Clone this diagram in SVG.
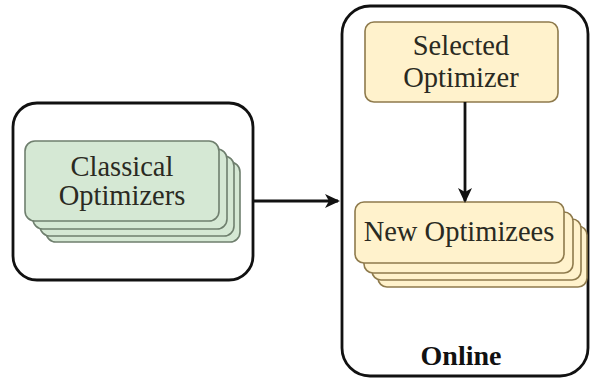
<svg xmlns="http://www.w3.org/2000/svg" width="596" height="382" viewBox="0 0 596 382">
<style>
.cont{fill:#ffffff;stroke:#111111;stroke-width:2.8}
.g{fill:#d5e8d4;stroke:#6f7f6e;stroke-width:1.6}
.y{fill:#fff2cc;stroke:#8e7a4c;stroke-width:1.6}
.t{font-family:"Liberation Serif","Times New Roman",serif;font-size:28.5px;fill:#2a2a22;text-anchor:middle}
.b{font-family:"Liberation Serif","Times New Roman",serif;font-size:28px;font-weight:bold;fill:#111111;text-anchor:middle}
.c{stroke:#111111;stroke-width:2.8;fill:none}
</style>
<defs>
<marker id="ah" markerWidth="16" markerHeight="16" refX="13" refY="8" orient="auto" markerUnits="userSpaceOnUse" viewBox="0 0 16 16">
<path d="M0,1 L15,8 L0,15 L4,8 Z" fill="#111111"/>
</marker>
</defs>
<rect width="596" height="382" fill="#ffffff"/>
<g id="offline">
<rect class="cont" x="13" y="103" width="240" height="177" rx="24"/>
</g>
<g id="online">
<rect class="cont" x="342" y="6" width="246" height="370" rx="28"/>
<text class="b" x="461" y="365">Online</text>
</g>
<g id="classical">
<rect class="g" x="46" y="162" width="194" height="80" rx="10"/>
<rect class="g" x="40" y="156" width="194" height="80" rx="10"/>
<rect class="g" x="33" y="149" width="194" height="80" rx="10"/>
<rect class="g" x="25" y="141" width="194" height="80" rx="10"/>
<text class="t" x="122" y="176">Classical</text>
<text class="t" x="122" y="205">Optimizers</text>
</g>
<g id="selected">
<rect class="y" x="365" y="22" width="193" height="80" rx="9"/>
<text class="t" x="461" y="55">Selected</text>
<text class="t" x="461" y="87">Optimizer</text>
</g>
<g id="newopt">
<rect class="y" x="378" y="226" width="209" height="61" rx="9"/>
<rect class="y" x="372" y="219" width="209" height="61" rx="9"/>
<rect class="y" x="364" y="212" width="209" height="61" rx="9"/>
<rect class="y" x="355" y="202" width="209" height="61" rx="9"/>
<text class="t" x="459" y="241">New Optimizees</text>
</g>
<g id="connectors">
<line class="c" x1="253" y1="201" x2="338" y2="201" marker-end="url(#ah)"/>
<line class="c" x1="465" y1="102" x2="465" y2="201" marker-end="url(#ah)"/>
</g>
</svg>
